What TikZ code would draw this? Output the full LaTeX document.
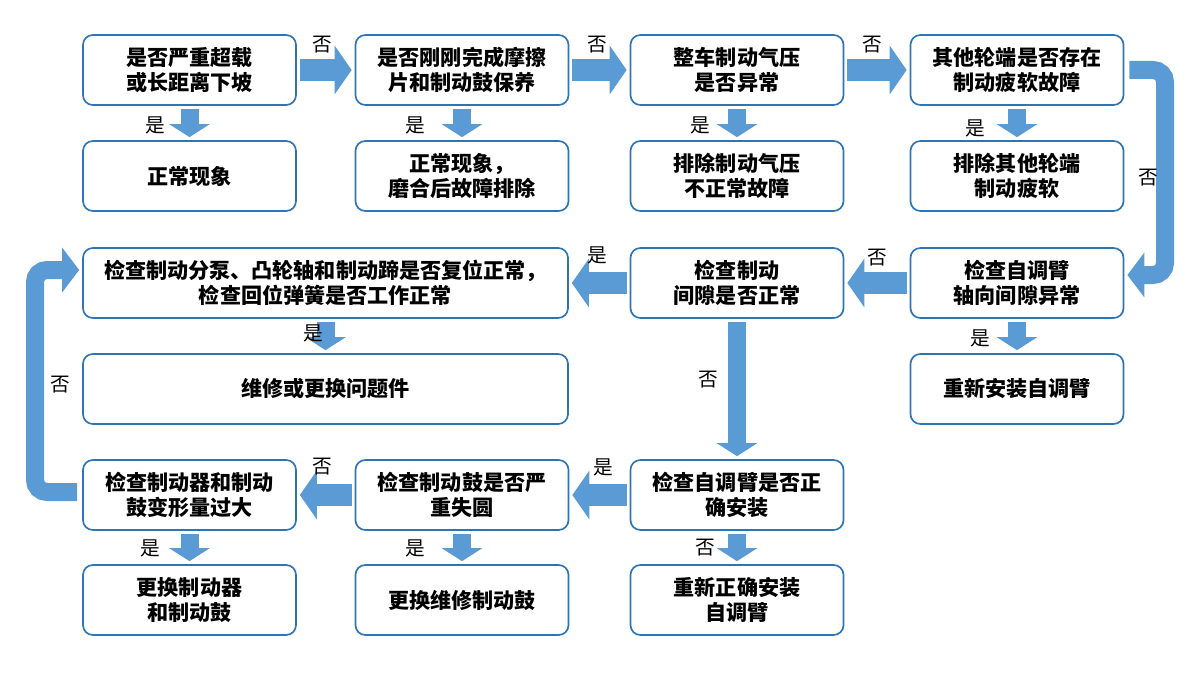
\documentclass[tikz,border=0pt]{standalone}
\usepackage{fontspec}
\setmainfont{Noto Sans CJK SC}
\usetikzlibrary{arrows.meta,positioning,calc}
\definecolor{boxblue}{RGB}{46,117,182}
\definecolor{arrowblue}{RGB}{91,155,213}

\begin{document}
\begin{tikzpicture}[x=0.025cm, y=-0.025cm,
    box/.style={draw=boxblue, line width=1.2pt, rounded corners=7pt, fill=white,
        minimum width=213*0.025cm, minimum height=70*0.025cm, align=center,
        font=\fontsize{15}{18}\selectfont\bfseries, inner sep=1pt},
    widebox/.style={box, minimum width=485*0.025cm},
    lbl/.style={font=\fontsize{14}{16}\selectfont, inner sep=0pt},
    harrow/.style={draw=arrowblue, line width=22*0.025cm,
        -{Triangle[length=17*0.025cm, width=48*0.025cm]}, shorten <=3*0.025cm, shorten >=3*0.025cm},
    varrow/.style={draw=arrowblue, line width=18*0.025cm,
        -{Triangle[length=13*0.025cm, width=40*0.025cm]}, shorten <=3*0.025cm, shorten >=3*0.025cm},
    loop arrow/.style={draw=arrowblue, line width=18*0.025cm, rounded corners=12*0.025cm,
        -{Triangle[length=17*0.025cm, width=44*0.025cm]}}]
    \useasboundingbox (0,0) rectangle (1200,675);

    % first row
    \node[box] (overload) at (189.5,70) {是否严重超载\\或长距离下坡};
    \node[box] (service) at (462,70) {是否刚刚完成摩擦\\片和制动鼓保养};
    \node[box] (pressure) at (737,70) {整车制动气压\\是否异常};
    \node[box] (wheels) at (1017,70) {其他轮端是否存在\\制动疲软故障};

    % second row
    \node[box] (normal) at (189.5,176) {正常现象};
    \node[box] (wearin) at (462,176) {正常现象，\\磨合后故障排除};
    \node[box] (fixpress) at (737,176) {排除制动气压\\不正常故障};
    \node[box] (fixwheels) at (1017,176) {排除其他轮端\\制动疲软};

    % third and fourth row
    \node[widebox] (returns) at (325.5,283) {检查制动分泵、凸轮轴和制动蹄是否复位正常，\\检查回位弹簧是否工作正常};
    \node[box] (clearance) at (737,283) {检查制动\\间隙是否正常};
    \node[box] (axial) at (1017,283) {检查自调臂\\轴向间隙异常};
    \node[widebox] (repair) at (325.5,389) {维修或更换问题件};
    \node[box] (reinstall) at (1017,389) {重新安装自调臂};

    % fifth and sixth row
    \node[box] (deform) at (189.5,495) {检查制动器和制动\\鼓变形量过大};
    \node[box] (drum) at (462,495) {检查制动鼓是否严\\重失圆};
    \node[box] (adjuster) at (737,495) {检查自调臂是否正\\确安装};
    \node[box] (newbrake) at (189.5,600) {更换制动器\\和制动鼓};
    \node[box] (newdrum) at (462,600) {更换维修制动鼓};
    \node[box] (fixadj) at (737,600) {重新正确安装\\自调臂};

    % arrows
    \draw[harrow] (overload) -- (service);
    \draw[harrow] (service) -- (pressure);
    \draw[harrow] (pressure) -- (wheels);
    \draw[varrow] (overload) -- (normal);
    \draw[varrow] (service) -- (wearin);
    \draw[varrow] (pressure) -- (fixpress);
    \draw[varrow] (wheels) -- (fixwheels);
    \draw[harrow] (axial) -- (clearance);
    \draw[harrow] (clearance) -- (returns.east |- clearance);
    \draw[varrow] (returns.south) -- (repair.north);
    \draw[varrow] (axial) -- (reinstall);
    \draw[varrow] (clearance) -- (adjuster);
    \draw[harrow] (adjuster) -- (drum);
    \draw[harrow] (drum) -- (deform);
    \draw[varrow] (deform) -- (newbrake);
    \draw[varrow] (drum) -- (newdrum);
    \draw[varrow] (adjuster) -- (fixadj);
    \coordinate (rtop) at (1165,70);
    \coordinate (rbot) at (1165,275);
    \draw[loop arrow] ($(wheels.east)+(5,0)$) -- (rtop) -- (rbot) -- ($(axial.east |- rbot)+(3,0)$);
    \coordinate (lbot) at (35,492);
    \coordinate (ltop) at (35,270);
    \draw[loop arrow] ($(deform.west)+(-5,-3)$) -- (lbot) -- (ltop) -- ($(returns.west |- ltop)+(-3,0)$);

    % labels
    \node[lbl] (n1) at (322,45) {否};
    \node[lbl] (n2) at (597,45) {否};
    \node[lbl] (n3) at (872,45) {否};
    \node[lbl] (y1) at (155,125) {是};
    \node[lbl] (y2) at (415,125) {是};
    \node[lbl] (y3) at (700,125) {是};
    \node[lbl] (y4) at (975,128) {是};
    \node[lbl] (n4) at (1148,178) {否};
    \node[lbl] (n5) at (877,258) {否};
    \node[lbl] (y5) at (597,255) {是};
    \node[lbl] (y6) at (313,333) {是};
    \node[lbl] (y7) at (980,338) {是};
    \node[lbl] (n6) at (60,385) {否};
    \node[lbl] (n7) at (708,380) {否};
    \node[lbl] (y8) at (603,467) {是};
    \node[lbl] (n8) at (322,467) {否};
    \node[lbl] (y9) at (150,548) {是};
    \node[lbl] (y10) at (415,548) {是};
    \node[lbl] (n9) at (705,548) {否};
\end{tikzpicture}
\end{document}
